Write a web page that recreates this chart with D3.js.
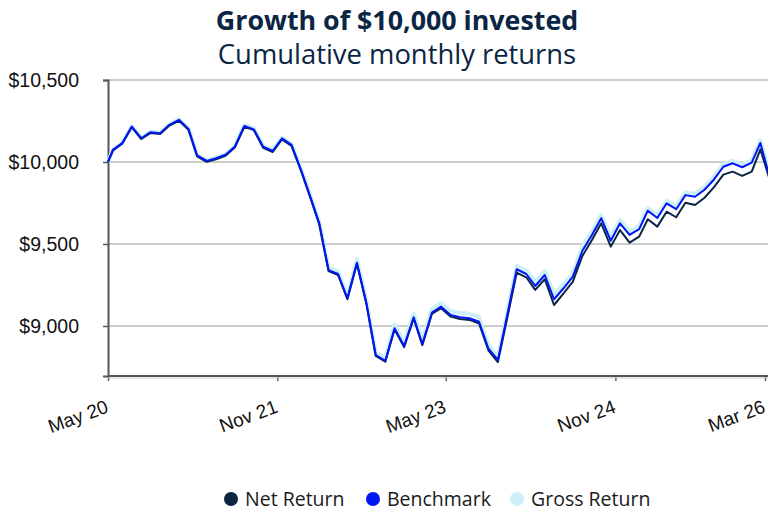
<!DOCTYPE html>
<html>
<head>
<meta charset="utf-8">
<script src="https://cdn.jsdelivr.net/npm/d3@7"></script>
<style>
  html, body { margin: 0; padding: 0; background: #ffffff; }
  svg { display: block; }
</style>
</head>
<body>
<svg id="chart" width="768" height="508"></svg>
<script>
// ---------------- data ----------------
const dates = [
  "2020-05-15","2020-05-31","2020-06-30","2020-07-31","2020-08-31","2020-09-30","2020-10-31","2020-11-30","2020-12-31",
  "2021-01-31","2021-02-28","2021-03-31","2021-04-30","2021-05-31","2021-06-30","2021-07-31","2021-08-31","2021-09-30","2021-10-31","2021-11-30","2021-12-31",
  "2022-01-31","2022-02-28","2022-03-31","2022-04-30","2022-05-31","2022-06-30","2022-07-31","2022-08-31","2022-09-30","2022-10-31","2022-11-30","2022-12-31",
  "2023-01-31","2023-02-28","2023-03-31","2023-04-30","2023-05-31","2023-06-30","2023-07-31","2023-08-31","2023-09-30","2023-10-31","2023-11-30","2023-12-31",
  "2024-01-31","2024-02-29","2024-03-31","2024-04-30","2024-05-31","2024-06-30","2024-07-31","2024-08-31","2024-09-30","2024-10-31","2024-11-30","2024-12-31",
  "2025-01-31","2025-02-28","2025-03-31","2025-04-30","2025-05-31","2025-06-30","2025-07-31","2025-08-31","2025-09-30","2025-10-31","2025-11-30","2025-12-31",
  "2026-01-31","2026-02-28","2026-03-31"
];
const netReturn = [
  10000,10070,10111,10212,10140,10177,10171,10222,10251,
  10196,10034,10001,10017,10038,10088,10215,10194,10087,10061,10138,10098,
  9945,9793,9620,9335,9311,9163,9380,9132,8817,8782,8979,8871,
  9046,8883,9073,9108,9057,9043,9037,9015,8852,8780,9045,9325,
  9297,9220,9285,9128,9199,9270,9427,9524,9626,9484,9585,9508,
  9545,9651,9606,9697,9663,9752,9738,9782,9845,9923,9941,9915,
  9941,10077,9888
];
const benchmark = [
  10000,10074,10115,10216,10145,10182,10176,10227,10257,
  10202,10040,10007,10023,10044,10093,10220,10199,10093,10067,10144,10104,
  9951,9799,9626,9341,9317,9169,9386,9138,8823,8788,8986,8878,
  9053,8890,9081,9118,9067,9053,9047,9026,8864,8793,9064,9346,
  9317,9244,9311,9163,9230,9301,9459,9555,9657,9520,9626,9555,
  9590,9703,9658,9748,9712,9798,9788,9831,9892,9971,9992,9968,
  9996,10116,9902
];
const grossReturn = [
  10000,10075,10116,10218,10147,10184,10178,10229,10260,
  10205,10043,10010,10026,10047,10098,10226,10205,10099,10073,10150,10111,
  9958,9807,9635,9356,9333,9185,9408,9155,8840,8805,9010,8900,
  9076,8912,9104,9140,9090,9080,9074,9054,8885,8810,9082,9366,
  9338,9270,9337,9189,9256,9321,9484,9575,9677,9541,9646,9575,
  9610,9720,9675,9765,9730,9815,9805,9848,9908,9987,10008,9984,
  10012,10132,9918
];
const seriesNames = ["Net Return", "Benchmark", "Gross Return"];
const seriesColors = ["#0b2545", "#0016f5", "#cdeff9"];
const yTickValues = [9000, 9500, 10000, 10500];
const xTickDates = ["2020-05-15", "2021-11-15", "2023-05-15", "2024-11-15", "2026-03-15"];
const xTickLabels = ["May 20", "Nov 21", "May 23", "Nov 24", "Mar 26"];

// ---------------- chart ----------------
const W = 768, H = 508;
const svg = d3.select("#chart");
const parse = d3.utcParse("%Y-%m-%d");
const dateObjs = dates.map(parse);

const x = d3.scaleUtc()
  .domain([parse(xTickDates[0]), parse(xTickDates[xTickDates.length - 1])])
  .range([108, 765]);
const y = d3.scaleLinear().domain([8695, 10500]).range([376, 80]);

// title
svg.append("text")
  .attr("x", 397).attr("y", 30)
  .attr("text-anchor", "middle")
  .attr("font-family", "'Open Sans', sans-serif")
  .attr("font-weight", 700)
  .attr("font-size", 26.8)
  .attr("fill", "#0b2545")
  .text("Growth of $10,000 invested");
svg.append("text")
  .attr("x", 397).attr("y", 64)
  .attr("text-anchor", "middle")
  .attr("font-family", "'Open Sans', sans-serif")
  .attr("font-size", 27.4)
  .attr("fill", "#0b2545")
  .text("Cumulative monthly returns");

// gridlines
svg.append("g").selectAll("line")
  .data(yTickValues)
  .join("line")
  .attr("x1", 108).attr("x2", W)
  .attr("y1", d => y(d)).attr("y2", d => y(d))
  .attr("stroke", "#cccccc").attr("stroke-width", 2);

// y axis
const yAxis = svg.append("g")
  .attr("transform", "translate(108,0)")
  .call(d3.axisLeft(y).tickValues(yTickValues).tickSize(5).tickPadding(24)
    .tickFormat(d => "$" + d3.format(",")(d)));
yAxis.select(".domain").attr("stroke", "#555555").attr("stroke-width", 2);
yAxis.selectAll(".tick line").attr("stroke", "#555555").attr("stroke-width", 1.5);
yAxis.selectAll(".tick text")
  .attr("font-family", "'Liberation Sans', Arial, sans-serif")
  .attr("font-size", 19.5)
  .attr("fill", "#111111");

// x axis
const xAxis = svg.append("g")
  .attr("transform", "translate(0,376)")
  .call(d3.axisBottom(x).tickValues(xTickDates.map(parse)).tickSize(5)
    .tickFormat((d, i) => xTickLabels[i]));
xAxis.select(".domain").remove();
xAxis.append("line")
  .attr("x1", 108).attr("x2", W).attr("y1", 0).attr("y2", 0)
  .attr("stroke", "#555555").attr("stroke-width", 2);
xAxis.append("line")
  .attr("x1", 108).attr("x2", W).attr("y1", 2).attr("y2", 2)
  .attr("stroke", "#cccccc").attr("stroke-width", 1);
xAxis.selectAll(".tick line").attr("stroke", "#555555").attr("stroke-width", 1.5);
xAxis.selectAll(".tick text")
  .attr("font-family", "'Liberation Sans', Arial, sans-serif")
  .attr("font-size", 19)
  .attr("fill", "#111111")
  .attr("text-anchor", "end")
  .attr("dy", null)
  .attr("y", null)
  .attr("transform", "translate(1,36) rotate(-20)");

// lines
const seriesData = [netReturn, benchmark, grossReturn];
const line = d3.line()
  .x((d, i) => x(dateObjs[i]))
  .y(d => y(d));
const drawOrder = [2, 0, 1];
const widths = [2, 2, 4];
svg.append("g").selectAll("path")
  .data(drawOrder)
  .join("path")
  .attr("d", k => line(seriesData[k]))
  .attr("fill", "none")
  .attr("stroke", k => seriesColors[k])
  .attr("stroke-width", k => widths[k])
  .attr("stroke-linejoin", "round");

// legend
const legendX = [231, 373, 517];
const lg = svg.append("g").selectAll("g")
  .data(seriesNames)
  .join("g")
  .attr("transform", (d, i) => `translate(${legendX[i]},499)`);
lg.append("circle").attr("r", 7).attr("fill", (d, i) => seriesColors[i]);
lg.append("text")
  .attr("x", 14).attr("y", 6.5)
  .attr("font-family", "'Open Sans', sans-serif")
  .attr("font-size", 19.5)
  .attr("fill", "#1a1a1a")
  .text(d => d);
</script>
</body>
</html>
